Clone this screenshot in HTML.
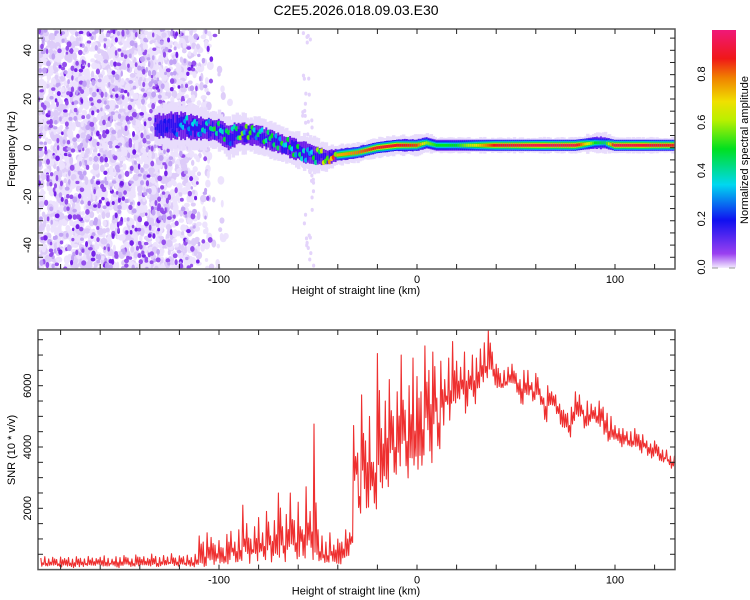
<!DOCTYPE html>
<html><head><meta charset="utf-8"><style>
body{margin:0;background:#fff;}
svg{display:block;font-family:"Liberation Sans",sans-serif;}
</style></head><body>
<svg id="fig" width="750" height="600" viewBox="0 0 750 600" xmlns="http://www.w3.org/2000/svg">
<defs>
<linearGradient id="cmap" x1="0" y1="1" x2="0" y2="0">
<stop offset="0" stop-color="#f4ecff"/><stop offset="0.06" stop-color="#9a40f0"/>
<stop offset="0.2" stop-color="#1010f0"/><stop offset="0.35" stop-color="#00d8f0"/>
<stop offset="0.5" stop-color="#00e020"/><stop offset="0.62" stop-color="#b8f000"/>
<stop offset="0.7" stop-color="#f0e000"/><stop offset="0.8" stop-color="#f08000"/>
<stop offset="0.88" stop-color="#f01818"/><stop offset="1" stop-color="#f01878"/>
</linearGradient>
<clipPath id="clipTop"><rect x="38" y="29" width="637" height="240"/></clipPath>
<clipPath id="clipBot"><rect x="38" y="330" width="637" height="240"/></clipPath>
</defs>
<text x="356" y="15" font-size="14" text-anchor="middle">C2E5.2026.018.09.03.E30</text>
<g id="topPanel"></g>
<g id="botPanel"></g>
<g id="cbar"></g>
</svg>
<script>
// ---- data: ridge of spectrogram ----
const ridgeKm   = [-132,-125,-118,-110,-100,-95,-90,-80,-70,-60,-52,-45,-40,-30,-20,-10,0,5,10,20,40,60,80,90,95,100,130];
const ridgeFreq = [9,9,9,8,7,4,6,5,2,-1,-3,-4,-3,-2,0,1,1,2,1,1,1,1,1,2,2,1,1];
const ridgeAmp  = [0.1,0.2,0.3,0.4,0.45,0.4,0.5,0.45,0.45,0.45,0.5,0.7,0.75,0.8,0.9,0.9,0.85,0.6,0.5,0.5,0.9,0.95,0.95,0.5,0.45,0.95,0.9];
const ridgeWidth= [8,9,9,8,8,8,8,7,7,7,7,5,4,4,4,4,4,4,3,3,3,3,3,4,4,3,3];
// ---- data: SNR envelope (every 2 km from -190) ----
const snrStartKm = -190, snrStepKm = 2;
const snrHi = [380,420,350,400,330,410,360,390,340,420,370,350,430,380,360,400,450,370,340,420,390,460,380,350,480,400,420,370,510,430,390,460,410,520,380,450,420,470,390,500,
1100,900,1200,1050,800,950,700,1150,1250,900,
1300,2100,1500,1000,1400,1700,1200,1900,1100,1600,
2500,1400,1800,2500,1600,2200,1300,2700,1900,4750,
1300,1100,900,1200,800,1000,900,1300,
1200,4700,3800,5700,4200,5000,3500,7050,4600,
5500,6200,5000,5800,7000,5200,6000,6900,6300,
5800,7300,6500,7100,5600,6800,6200,6900,7440,
6800,6600,7100,6500,7000,6900,7200,7400,7800,
7100,6700,6400,6500,6600,6700,6400,6200,6500,
6500,6100,6400,5900,5600,6000,5800,5700,5400,
5200,5100,5300,5800,5700,5200,5500,5400,5300,
5500,5300,5100,5000,4700,4600,4600,4500,4500,
4600,4400,4400,4200,4100,4200,4000,3900,3900,3700,3700];
const snrLo = [80,60,100,70,90,50,110,80,60,90,70,100,80,60,120,90,70,110,80,60,100,130,90,70,110,80,120,90,100,70,110,90,130,80,100,120,90,110,80,100,
150,100,200,120,250,180,100,150,300,200,
250,300,200,400,150,300,250,350,200,300,
300,200,500,350,250,400,200,600,300,200,
100,150,100,200,150,100,200,300,
800,2500,1600,2400,1600,2200,1800,2250,2600,
2500,3000,2650,3200,3600,2800,3400,3000,3200,
3030,4200,3300,4600,3800,4700,5200,4800,5000,
5300,5600,5000,5800,5400,5600,6000,6200,6400,
6000,5900,5800,5900,6100,6000,5700,5300,5700,
5600,5500,5700,5200,4800,5300,5200,4900,4600,
4500,4300,4700,5000,4900,4600,4700,4800,4700,
4600,4400,4100,4200,4100,4000,4100,4000,4000,
4000,3800,3900,3700,3600,3700,3500,3500,3400,3300,3200];
const xTicksLabels = [-100,0,100];
const freqTickLabels = [-40,-20,0,20,40];
const snrTickLabels = [2000,4000,6000];
const cbarTickLabels = [0.0,0.2,0.4,0.6,0.8];

const NS="http://www.w3.org/2000/svg";
function mk(tag,attrs,parent){const e=document.createElementNS(NS,tag);for(const k in attrs)e.setAttribute(k,attrs[k]);parent.appendChild(e);return e;}
const X0=38,X1=675;
const xs=km=>417+km*1.98;
const yF=f=>147.7-f*2.435;
const yS=v=>569.6-v*0.03065;
function cmap(t){
  const st=[[0,[244,236,255]],[0.06,[154,64,240]],[0.2,[16,16,240]],[0.35,[0,216,240]],[0.5,[0,224,32]],[0.62,[184,240,0]],[0.7,[240,224,0]],[0.8,[240,128,0]],[0.88,[240,24,24]],[1,[240,24,120]]];
  t=Math.max(0,Math.min(1,t));
  for(let i=1;i<st.length;i++){if(t<=st[i][0]){const a=st[i-1],b=st[i],u=(t-a[0])/(b[0]-a[0]);
    return 'rgb('+a[1].map((c,j)=>Math.round(c+(b[1][j]-c)*u)).join(',')+')';}}
  return 'rgb(240,24,120)';
}
function interp(xa,ya,x){if(x<=xa[0])return ya[0];for(let i=1;i<xa.length;i++)if(x<=xa[i]){const u=(x-xa[i-1])/(xa[i]-xa[i-1]);return ya[i-1]+(ya[i]-ya[i-1])*u;}return ya[ya.length-1];}
// deterministic texture generator (visual texture only)
let seed=987654321;
function rnd(){seed|=0;seed=seed+0x6D2B79F5|0;let t=Math.imul(seed^seed>>>15,1|seed);t=t+Math.imul(t^t>>>7,61|t)^t;return((t^t>>>14)>>>0)/4294967296;}

// ---------- TOP PANEL ----------
const topG=document.getElementById('topPanel');
const gT=mk('g',{'clip-path':'url(#clipTop)'},topG);


function blob(km,f,rx,ry,col,op){
  const e=mk('ellipse',{cx:xs(km),cy:yF(f),rx:rx,ry:ry,fill:col,opacity:op},gT);
  
  
}
function densAt(km){return km<-125?1:(km<-112?0.7:(km<-104?0.3:(km<-97?0.06:0.015)));}
for(let i=0;i<3400;i++){
  const km=-193+rnd()*100, f=-51+rnd()*101;
  if(rnd()>densAt(km))continue;
  blob(km,f,1.5+rnd()*2,2+rnd()*2.5,rnd()<0.6?'#ece2fd':'#dccaf9',0.95);
}
for(let i=0;i<1000;i++){
  const km=-193+rnd()*100, f=-51+rnd()*101;
  if(rnd()>densAt(km)*0.9)continue;
  const r=rnd();
  blob(km,f,1.2+rnd()*1.3,1.6+rnd()*1.6,r<0.45?'#c0a0f4':(r<0.85?'#9048ec':'#7018e8'),0.95);
}
for(let i=0;i<50;i++){const km=-58+rnd()*6,f=-50+rnd()*99;blob(km,f,1.6,2,'#e4d4fb',1);}
// ridge: layered bands
function rr(x,y,h,col,name){const r=mk('rect',{x:x-1.2,y:y-h/2,width:3.4,height:h,fill:col},gT);
  }
for(let km=-132;km<=131;km+=1){
  const f=interp(ridgeKm,ridgeFreq,km), a=interp(ridgeKm,ridgeAmp,km), w=interp(ridgeKm,ridgeWidth,km);
  const cy=yF(f), x=xs(km), hw=w*2.435;
  rr(x,cy,hw*2*(0.85+rnd()*0.3),'#e8dcfc','ridge-halo');
  rr(x,cy,hw*1.15*(0.85+rnd()*0.3),km<-40?'#7020e8':'#5a18f0','ridge-edge');
  if(km<-40){
    rr(x,cy+(rnd()-0.5)*hw*0.4,hw*0.6,'#3010f0','ridge-band');
    const e=mk('ellipse',{cx:x,cy:cy+(rnd()-0.5)*hw*0.9,rx:2.2,ry:2.6,fill:cmap(a*(0.6+rnd()*0.6))},gT);
    
  } else {
    const levels=[0.2,0.35,0.5,0.7,1];
    const hs=[11,9,7,5,3];
    levels.forEach((l,j)=>rr(x,cy,hs[j],cmap(a*l),'ridge-band'));
  }
}
function frame(g,y0,y1,name){
  const r=mk('rect',{x:X0,y:y0,width:X1-X0,height:y1-y0,fill:'none',stroke:'#555','stroke-width':1.5},g);
  
  for(let km=-180;km<=120;km+=20){
    const l1=mk('line',{x1:xs(km),x2:xs(km),y1:y0,y2:y0+5,stroke:'#222'},g);
    
    const l2=mk('line',{x1:xs(km),x2:xs(km),y1:y1,y2:y1-5,stroke:'#222'},g);
    
  }
  xTicksLabels.forEach(v=>{const t=mk('text',{x:xs(v),y:y1+14,'font-size':11,'text-anchor':'middle'},g);t.textContent=v;
    });
  const t=mk('text',{x:356,y:y1+25,'font-size':11,'text-anchor':'middle'},g);t.textContent='Height of straight line (km)';
  
}
frame(topG,29,269,'spectrogram-frame');
for(let f=-45;f<=45;f+=5){
  [[X0,X0+5],[X1,X1-5]].forEach(p=>{const l=mk('line',{x1:p[0],x2:p[1],y1:yF(f),y2:yF(f),stroke:'#222'},topG);
    });
}
freqTickLabels.forEach(v=>{const t=mk('text',{x:0,y:0,'font-size':11,'text-anchor':'middle',transform:`translate(31 ${yF(v)}) rotate(-90)`},topG);t.textContent=v;
  });
{const t=mk('text',{x:0,y:0,'font-size':11,'text-anchor':'middle',transform:'translate(15 149) rotate(-90)'},topG);t.textContent='Frequency (Hz)';
 }

// ---------- COLORBAR ----------
const cb=document.getElementById('cbar');
{const r=mk('rect',{x:712,y:30,width:24,height:238,fill:'url(#cmap)'},cb);
 }
const cbY=v=>267-v*241.2;
cbarTickLabels.forEach(v=>{const t=mk('text',{x:0,y:0,'font-size':11,'text-anchor':'middle',transform:`translate(705 ${cbY(v)}) rotate(-90)`},cb);t.textContent=v.toFixed(1);
  });
[712,729].forEach(x=>{const l=mk('line',{x1:x,x2:x+6,y1:268,y2:268,stroke:'#999'},cb);});
{const t=mk('text',{x:0,y:0,'font-size':11,'text-anchor':'middle',transform:'translate(748 150) rotate(-90)'},cb);t.textContent='Normalized spectral amplitude';
 }

// ---------- BOTTOM PANEL ----------
const botG=document.getElementById('botPanel');
const gB=mk('g',{'clip-path':'url(#clipBot)'},botG);
let pts=[];
for(let i=0;i<snrHi.length;i++){
  const km=snrStartKm+i*snrStepKm;
  for(let k=0;k<4;k++){
    const w=k===0?1:(k===2?0.35+rnd()*0.5:rnd()*0.3);
    const v=snrLo[i]+(snrHi[i]-snrLo[i])*w;
    pts.push(xs(km+k*0.5).toFixed(1)+','+yS(v).toFixed(1));
  }
}
{const p=mk('polyline',{points:pts.join(' '),fill:'none',stroke:'#ee3030','stroke-width':1.1,'stroke-linejoin':'round'},gB);
 }
frame(botG,330,569.6,'snr-frame');
for(let v=500;v<=7500;v+=500){
  [[X0,X0+5],[X1,X1-5]].forEach(p=>{const l=mk('line',{x1:p[0],x2:p[1],y1:yS(v),y2:yS(v),stroke:'#222'},botG);
    });
}
snrTickLabels.forEach(v=>{const t=mk('text',{x:0,y:0,'font-size':11,'text-anchor':'middle',transform:`translate(31 ${yS(v)}) rotate(-90)`},botG);t.textContent=v;
  });
{const t=mk('text',{x:0,y:0,'font-size':11,'text-anchor':'middle',transform:'translate(15 450) rotate(-90)'},botG);t.textContent='SNR (10 * v/v)';
 }
</script>
</body></html>
